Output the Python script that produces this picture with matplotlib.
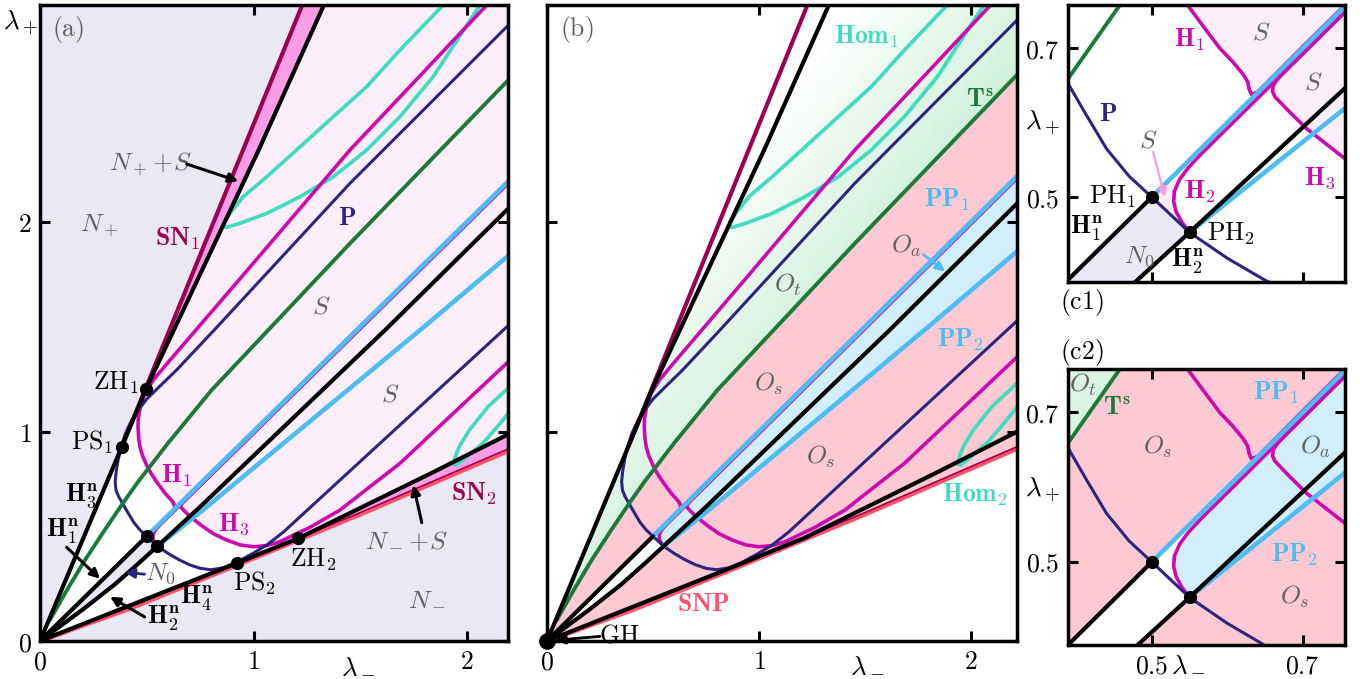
import numpy as np
import matplotlib
matplotlib.use("Agg")
import matplotlib.pyplot as plt
from matplotlib.patches import Polygon
from matplotlib.colors import LinearSegmentedColormap

plt.rcParams['mathtext.fontset'] = 'cm'
plt.rcParams['font.family'] = ['DejaVu Serif']

# ---- curves, (lambda_-, lambda_+) ----
upper_black_x = [0.0, 0.383, 0.4965, 1.0225, 1.327, 1.35]
upper_black_y = [0.0, 0.927, 1.203, 2.34, 3.03, 3.08]
sn1_x = [0.383, 0.80, 1.226, 1.245]
sn1_y = [0.927, 1.967, 3.03, 3.077]
lower_black_x = [0.0, 0.921, 1.05, 1.21, 1.5, 1.85, 2.186, 2.3]
lower_black_y = [0.0, 0.371, 0.425, 0.49, 0.635, 0.81, 0.983, 1.042]
red_x = [0.0, 0.42, 0.921, 1.5, 2.186, 2.3]
red_y = [0.0, 0.155, 0.362, 0.605, 0.905, 0.955]
sn2_x = [0.921, 1.5, 2.186, 2.3]
sn2_y = [0.369, 0.613, 0.914, 0.964]
hn1_x = [0.0, 0.5]
hn1_y = [0.0, 0.5]
hn2_x = [0.0, 0.2, 0.35, 0.45, 0.55]
hn2_y = [0.0, 0.15, 0.27, 0.36, 0.4526]
black2_x = [0.55, 0.7556, 1.616, 2.186, 2.3]
black2_y = [0.4526, 0.646, 1.484, 2.057, 2.172]
pp1_x = [0.5, 2.3]
pp1_y = [0.5, 2.3]
pp2_x = [0.55, 0.7556, 1.78, 2.186, 2.3]
pp2_y = [0.4526, 0.619, 1.484, 1.833, 1.93]
ts_x = [0.046, 0.13, 0.211, 0.3, 0.389, 0.4576, 0.6, 0.804, 1.452, 2.186, 2.3]
ts_y = [0.1, 0.25, 0.387, 0.525, 0.659, 0.7577, 0.945, 1.198, 1.898, 2.67, 2.79]
p_x = [2.3, 2.186, 1.452, 0.812, 0.64, 0.56, 0.50, 0.455, 0.425, 0.40, 0.383, 0.367,
       0.357, 0.352, 0.356, 0.368, 0.389, 0.414, 0.44, 0.47, 0.5, 0.55, 0.6, 0.6497,
       0.70, 0.75, 0.80, 0.86, 0.921, 1.0, 1.062, 1.14, 1.218, 1.5, 2.17, 2.3]
p_y = [3.05, 2.932, 2.185, 1.48, 1.294, 1.215, 1.155, 1.095, 1.045, 0.99, 0.935, 0.87,
       0.81, 0.76, 0.72, 0.69, 0.6526, 0.609, 0.565, 0.528, 0.5, 0.4526, 0.418, 0.3886,
       0.364, 0.347, 0.34, 0.35, 0.376, 0.42, 0.458, 0.52, 0.593, 0.857, 1.484, 1.606]
h1_top_x = [2.115, 1.452, 0.95, 0.6, 0.53]
h1_top_y = [3.06, 2.344, 1.745, 1.33, 1.245]
h1_bend_x = [0.49, 0.47, 0.46, 0.459, 0.462, 0.468, 0.48, 0.5, 0.52, 0.548, 0.57, 0.59,
             0.607, 0.621, 0.627, 0.629, 0.632]
h1_bend_y = [1.18, 1.12, 1.06, 1.02, 0.97, 0.927, 0.885, 0.838, 0.80, 0.757, 0.727, 0.70,
             0.682, 0.665, 0.655, 0.645, 0.638]
h1_tail_x = [0.64, 0.7, 2.3]
h1_tail_y = [0.641, 0.702, 2.302]
h2_tail_x = [2.3, 0.7, 0.6]
h2_tail_y = [2.2925, 0.6925, 0.5925]
h2_bend_x = [0.565, 0.548, 0.537, 0.53, 0.529, 0.532, 0.54, 0.55]
h2_bend_y = [0.5575, 0.539, 0.524, 0.508, 0.494, 0.481, 0.466, 0.4526]
h3_tail_x = [2.3, 0.68, 0.667]
h3_tail_y = [2.2925, 0.6725, 0.659]
h3_bend_x = [0.661, 0.66, 0.663, 0.68, 0.705, 0.7556, 0.812, 0.874, 0.94, 1.0, 1.06,
             1.124, 1.207]
h3_bend_y = [0.65, 0.642, 0.635, 0.617, 0.592, 0.552, 0.512, 0.482, 0.458, 0.45, 0.455,
             0.474, 0.515]
h3_right_x = [1.26, 1.405, 1.686, 2.186, 2.3]
h3_right_y = [0.54, 0.625, 0.848, 1.326, 1.435]
hom1_x = [1.93, 1.889, 1.686, 1.530, 1.374, 1.218, 1.062, 0.952, 0.890, 0.866, 0.859,
          0.875, 0.937, 1.062, 1.218, 1.374, 1.530, 1.686, 1.842, 2.061, 2.09]
hom1_y = [3.08, 3.036, 2.821, 2.646, 2.503, 2.359, 2.216, 2.121, 2.041, 2.005, 1.978,
          1.975, 1.994, 2.041, 2.121, 2.216, 2.344, 2.503, 2.694, 3.036, 3.08]
hom2_x = [2.25, 2.2, 2.1, 2.011, 1.965, 1.945, 1.938, 1.95, 1.99, 2.074, 2.14, 2.2, 2.25]
hom2_y = [1.26, 1.214, 1.12, 1.007, 0.93, 0.88, 0.845, 0.84, 0.872, 0.944, 1.02, 1.095,
          1.16]

# special points
pts_a = {'ZH1': (0.4965, 1.203), 'PS1': (0.383, 0.927), 'PH1': (0.5, 0.5),
         'PH2': (0.55, 0.4526), 'PS2': (0.921, 0.371), 'ZH2': (1.21, 0.49)}

# colours
LAV = '#eae8f5'
SPINK = '#fdeefa'
BAND = '#fb9de6'
OS = '#fdc9d2'
OA = '#d3eefb'
OT = '#c4eed1'
NAVY = '#2d2482'
MAG = '#cc0ab0'
GRN = '#1b7a38'
CYAN = '#4cbcf2'
TURQ = '#40dcc0'
CRIM = '#9c0050'
RED = '#ff4f6a'
GRAY = '#606060'

FS = 18.5

W, H = 1369, 679
fig = plt.figure(figsize=(W / 100, H / 100), dpi=100)


def add_axes(l, t, r, b):
    return fig.add_axes([l / W, 1 - b / H, (r - l) / W, (b - t) / H])


def xy(xs, ys):
    return list(zip(xs, ys))


def rev(xs, ys):
    return list(zip(xs[::-1], ys[::-1]))


def poly(ax, verts, color, z=1):
    ax.add_patch(Polygon(verts, closed=True, facecolor=color, edgecolor='none', zorder=z))


def fills_a(ax):
    ax.set_facecolor(LAV)
    poly(ax, xy(upper_black_x, upper_black_y) + [(2.3, 3.1)] + rev(lower_black_x, lower_black_y),
         'white', 0.5)
    poly(ax, xy(sn1_x, sn1_y) + rev(upper_black_x[1:], upper_black_y[1:]), BAND, 1)
    poly(ax, xy(lower_black_x[1:], lower_black_y[1:]) + rev(red_x[2:], red_y[2:]), BAND, 1)
    s_verts = (xy(upper_black_x[2:], upper_black_y[2:]) + [(2.3, 3.1)]
               + rev(lower_black_x[3:], lower_black_y[3:])
               + rev(h3_bend_x, h3_bend_y) + rev(h1_bend_x, h1_bend_y))
    poly(ax, s_verts, SPINK, 1)
    poly(ax, [(0.5, 0.5), (0.55, 0.4526)] + rev(h2_bend_x, h2_bend_y) + [(0.6, 0.5925), (0.6, 0.6)],
         SPINK, 1)
    poly(ax, [(0, 0), (0.5, 0.5)] + rev(hn2_x, hn2_y), LAV, 1)


def fills_b(ax):
    ax.set_facecolor('white')
    green_verts = (xy(upper_black_x, upper_black_y) + [(2.3, 3.1), (2.3, ts_y[-1])]
                   + rev(ts_x, ts_y) + [(0, 0)])
    clip = Polygon(green_verts, closed=True, facecolor='none', edgecolor='none')
    ax.add_patch(clip)
    gx, gy = np.meshgrid(np.linspace(0, 2.3, 300), np.linspace(0, 3.1, 400))
    t = np.clip(0.73 + 0.773 * gx - 0.604 * gy, 0, 1)
    cmap = LinearSegmentedColormap.from_list('g', ['#ffffff', OT])
    im = ax.imshow(t, extent=(0, 2.3, 0, 3.1), origin='lower', cmap=cmap, vmin=0, vmax=1,
                   aspect='auto', zorder=0.6, interpolation='bilinear')
    im.set_clip_path(clip)
    poly(ax, xy(ts_x, ts_y) + [(2.3, red_y[-1])] + rev(red_x, red_y), OS, 0.8)
    poly(ax, xy(pp1_x, pp1_y) + rev(pp2_x, pp2_y), OA, 1)
    poly(ax, [(0, 0), (0.5, 0.5), (0.6, 0.6), (0.6, 0.5925)] + xy(h2_bend_x, h2_bend_y)
         + rev(hn2_x, hn2_y), 'white', 1.2)


def lines(ax):
    kw = dict(solid_capstyle='round', solid_joinstyle='round')
    ax.plot(hom1_x, hom1_y, color=TURQ, lw=2.7, zorder=3, **kw)
    ax.plot(hom2_x, hom2_y, color=TURQ, lw=2.7, zorder=3, **kw)
    ax.plot(h1_top_x + h1_bend_x + h1_tail_x, h1_top_y + h1_bend_y + h1_tail_y,
            color=MAG, lw=2.6, zorder=3.5, **kw)
    ax.plot(h2_tail_x + h2_bend_x, h2_tail_y + h2_bend_y, color=MAG, lw=2.6, zorder=3.5, **kw)
    ax.plot(h3_tail_x + h3_bend_x + h3_right_x, h3_tail_y + h3_bend_y + h3_right_y,
            color=MAG, lw=2.6, zorder=3.5, **kw)
    ax.plot(p_x, p_y, color=NAVY, lw=2.2, zorder=4, **kw)
    ax.plot(ts_x, ts_y, color=GRN, lw=2.8, zorder=4, **kw)
    ax.plot(pp1_x, pp1_y, color=CYAN, lw=3.3, zorder=5, **kw)
    ax.plot(pp2_x, pp2_y, color=CYAN, lw=3.3, zorder=5, **kw)
    ax.plot(red_x, red_y, color=RED, lw=3.4, zorder=5.5, **kw)
    ax.plot(sn2_x, sn2_y, color=CRIM, lw=1.1, zorder=5.6, **kw)
    ax.plot(sn1_x, sn1_y, color=CRIM, lw=3.0, zorder=6, **kw)
    for bx, by in [(upper_black_x, upper_black_y), (lower_black_x, lower_black_y),
                   (hn1_x, hn1_y), (hn2_x, hn2_y), (black2_x, black2_y)]:
        ax.plot(bx, by, color='black', lw=3.0, zorder=6, **kw)


def frame(ax, xt, yt, xl=None, yl=None):
    for s in ax.spines.values():
        s.set_linewidth(2.5)
        s.set_zorder(20)
    ax.set_xticks(xt)
    ax.set_yticks(yt)
    ax.tick_params(direction='in', length=7, width=2.2, top=True, right=True, pad=6,
                   labelsize=FS)
    ax.set_xticklabels(xl if xl is not None else [])
    ax.set_yticklabels(yl if yl is not None else [])


def lab(ax, x, y, s, c='black', size=FS, ha='center'):
    ax.text(x, y, s, color=c, fontsize=size, ha=ha, va='center', zorder=12)


def arrow(ax, start, end, c='black', lw=2.2):
    ax.annotate('', xy=end, xytext=start, zorder=12,
                arrowprops=dict(arrowstyle='-|>', color=c, lw=lw, mutation_scale=14,
                                shrinkA=0, shrinkB=0))


def dots(ax, names):
    for n in names:
        ax.plot(*pts_a[n], 'o', color='black', ms=8.5, zorder=9)


def figlab(px, py, s, size=FS + 1):
    fig.text(px / W, 1 - py / H, s, fontsize=size, ha='center', va='center')


# ---------------- panel (a) ----------------
axa = add_axes(40, 5, 508, 641)
fills_a(axa)
lines(axa)
dots(axa, pts_a.keys())
axa.set_xlim(0, 2.192)
axa.set_ylim(0, 3.036)
frame(axa, [0, 1, 2], [0, 1, 2], [r'$0$', r'$1$', r'$2$'], [r'$0$', r'$1$', r'$2$'])
axa.text(0.025, 0.961, r'$\mathrm{(a)}$', transform=axa.transAxes, fontsize=FS,
         color=GRAY, ha='left', va='center')
lab(axa, 0.28, 1.985, r'$N_+$', GRAY)
lab(axa, 0.515, 2.28, r'$N_+\!+\!S$', GRAY)
arrow(axa, (0.687, 2.277), (0.929, 2.195))
lab(axa, 0.646, 1.92, r'$\mathbf{SN_1}$', CRIM)
lab(axa, 1.436, 2.02, r'$\mathbf{P}$', NAVY)
lab(axa, 1.319, 1.6, r'$S$', GRAY)
lab(axa, 1.639, 1.18, r'$S$', GRAY)
lab(axa, 0.46, 1.232, r'$\mathrm{ZH}_1$', ha='right')
lab(axa, 0.345, 0.947, r'$\mathrm{PS}_1$', ha='right')
lab(axa, 0.64, 0.79, r'$\mathbf{H_1}$', MAG)
lab(axa, 0.905, 0.56, r'$\mathbf{H_3}$', MAG)
lab(axa, 0.195, 0.695, r'$\mathbf{H^n_3}$')
lab(axa, 0.105, 0.522, r'$\mathbf{H^n_1}$')
arrow(axa, (0.125, 0.447), (0.281, 0.297))
lab(axa, 0.565, 0.322, r'$N_0$', GRAY)
arrow(axa, (0.49, 0.319), (0.398, 0.327), c=NAVY, lw=2.0)
lab(axa, 0.58, 0.108, r'$\mathbf{H^n_2}$')
arrow(axa, (0.49, 0.115), (0.328, 0.211))
lab(axa, 0.734, 0.204, r'$\mathbf{H^n_4}$')
lab(axa, 1.007, 0.275, r'$\mathrm{PS}_2$')
lab(axa, 1.279, 0.386, r'$\mathrm{ZH}_2$')
lab(axa, 2.03, 0.704, r'$\mathbf{SN_2}$', CRIM)
lab(axa, 1.717, 0.481, r'$N_-\!+\!S$', GRAY)
arrow(axa, (1.788, 0.565), (1.749, 0.744))
lab(axa, 1.811, 0.21, r'$N_-$', GRAY)
figlab(20, 23, r'$\lambda_+$')
figlab(358, 665, r'$\lambda_-$')

# ---------------- panel (b) ----------------
axb = add_axes(547, 5, 1017, 641)
fills_b(axb)
lines(axb)
axb.plot(0, 0, 'o', color='black', ms=11, zorder=9, clip_on=False)
axb.set_xlim(0, 2.217)
axb.set_ylim(0, 3.036)
frame(axb, [0, 1, 2], [0, 1, 2], [r'$0$', r'$1$', r'$2$'])
axb.text(0.027, 0.962, r'$\mathrm{(b)}$', transform=axb.transAxes, fontsize=FS,
         color=GRAY, ha='left', va='center')
lab(axb, 1.508, 2.885, r'$\mathbf{Hom_1}$', TURQ)
lab(axb, 2.042, 2.585, r'$\mathbf{T^s}$', GRN)
lab(axb, 1.885, 2.105, r'$\mathbf{PP_1}$', CYAN)
lab(axb, 1.697, 1.885, r'$O_a$', GRAY)
arrow(axb, (1.775, 1.845), (1.877, 1.765), c=CYAN, lw=1.8)
lab(axb, 1.138, 1.70, r'$O_t$', GRAY)
lab(axb, 1.948, 1.437, r'$\mathbf{PP_2}$', CYAN)
lab(axb, 1.044, 1.23, r'$O_s$', GRAY)
lab(axb, 1.288, 0.878, r'$O_s$', GRAY)
lab(axb, 2.019, 0.697, r'$\mathbf{Hom_2}$', TURQ)
lab(axb, 0.737, 0.18, r'$\mathbf{SNP}$', RED)
lab(axb, 0.34, 0.03, r'$\mathrm{GH}$')
arrow(axb, (0.25, 0.022), (0.04, 0.004), lw=2.0)
figlab(867, 664, r'$\lambda_-$')

# ---------------- panel (c1) ----------------
axc1 = add_axes(1068, 5, 1345, 282)
fills_a(axc1)
lines(axc1)
dots(axc1, ['PH1', 'PH2'])
axc1.set_xlim(0.389, 0.756)
axc1.set_ylim(0.386, 0.758)
frame(axc1, [0.5, 0.7], [0.5, 0.7], None, [r'$0.5$', r'$0.7$'])
lab(axc1, 0.5503, 0.7107, r'$\mathbf{H_1}$', MAG)
lab(axc1, 0.6453, 0.7219, r'$S$', GRAY)
lab(axc1, 0.7137, 0.6548, r'$S$', GRAY)
lab(axc1, 0.4421, 0.6123, r'$\mathbf{P}$', NAVY)
lab(axc1, 0.495, 0.5765, r'$S$', GRAY)
arrow(axc1, (0.5017, 0.5608), (0.5172, 0.5004), c='#ff99e0', lw=1.6)
lab(axc1, 0.5636, 0.507, r'$\mathbf{H_2}$', MAG)
lab(axc1, 0.7225, 0.525, r'$\mathbf{H_3}$', MAG)
lab(axc1, 0.479, 0.5004, r'$\mathrm{PH}_1$', ha='right')
lab(axc1, 0.573, 0.4513, r'$\mathrm{PH}_2$', ha='left')
lab(axc1, 0.4135, 0.458, r'$\mathbf{H^n_1}$')
lab(axc1, 0.4841, 0.4199, r'$N_0$', GRAY)
lab(axc1, 0.5481, 0.4132, r'$\mathbf{H^n_2}$')
figlab(1082, 302, r'$\mathrm{(c1)}$', FS)
figlab(1042, 123, r'$\lambda_+$')

# ---------------- panel (c2) ----------------
axc2 = add_axes(1068, 369, 1345, 645)
fills_b(axc2)
lines(axc2)
dots(axc2, ['PH1', 'PH2'])
axc2.set_xlim(0.389, 0.756)
axc2.set_ylim(0.389, 0.758)
frame(axc2, [0.5, 0.7], [0.5, 0.7], [r'$0.5$', r'$0.7$'], [r'$0.5$', r'$0.7$'])
lab(axc2, 0.409, 0.737, r'$O_t$', GRAY)
lab(axc2, 0.453, 0.706, r'$\mathbf{T^s}$', GRN)
lab(axc2, 0.508, 0.6545, r'$O_s$', GRAY)
lab(axc2, 0.665, 0.726, r'$\mathbf{PP_1}$', CYAN)
lab(axc2, 0.716, 0.6545, r'$O_a$', GRAY)
lab(axc2, 0.689, 0.51, r'$\mathbf{PP_2}$', CYAN)
lab(axc2, 0.689, 0.454, r'$O_s$', GRAY)
figlab(1082, 352, r'$\mathrm{(c2)}$', FS)
figlab(1042, 490, r'$\lambda_+$')
figlab(1188, 663, r'$\lambda_-$')

fig.savefig('out.png', dpi=100)
